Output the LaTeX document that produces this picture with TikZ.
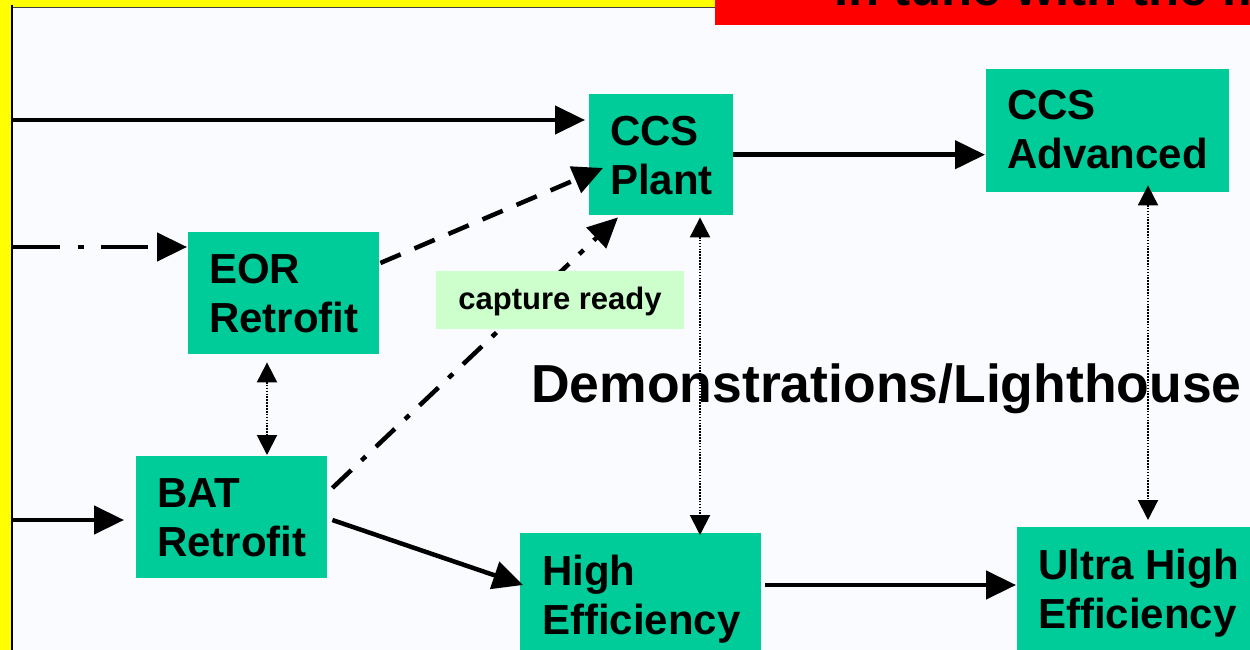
\documentclass[tikz,border=0pt]{standalone}
\usepackage{fontspec}
\setmainfont{Liberation Sans}
\usetikzlibrary{arrows.meta,calc}

\definecolor{boxgreen}{RGB}{0,204,153}
\definecolor{readygreen}{RGB}{204,255,204}
\definecolor{panelbg}{RGB}{250,251,254}
\definecolor{frameyellow}{RGB}{255,255,0}
\definecolor{bannerred}{RGB}{255,0,0}

\begin{document}
\begin{tikzpicture}[x=1pt,y=-1pt,
  stage/.style={fill=boxgreen, draw=none, inner sep=0pt, anchor=north west},
  stagetext/.style={anchor=north west, inner sep=0pt, align=left,
    font=\bfseries\fontsize{42}{49}\selectfont},
  flow/.style={line width=4.5pt, -{Triangle[length=30pt,width=28pt]}},
  dashflow/.style={flow, dash pattern=on 22pt off 15pt},
  dotdash/.style={flow, dash pattern=on 47pt off 18pt on 6pt off 17pt},
  dotdashdiag/.style={flow, dash pattern=on 26pt off 14pt on 6pt off 14pt},
  link/.style={line width=2pt, dash pattern=on 1.6pt off 1.3pt,
    {Triangle[length=20pt,width=20pt]}-{Triangle[length=20pt,width=20pt]}},
]
\useasboundingbox (0,0) rectangle (1250,650);
\clip (0,0) rectangle (1250,650);

% frame and panel
\fill[frameyellow] (0,0) rectangle (1250,650);
\fill[panelbg] (12,7) rectangle (1260,660);
\draw[line width=1.5pt, black!75] (12,7.5) -- (1260,7.5);
\draw[line width=2.5pt, black] (12,5) -- (12,660);

% banner
\fill[bannerred] (715,0) rectangle (1260,25);
\node[anchor=base west, inner sep=0pt, font=\bfseries\fontsize{51}{60}\selectfont]
  (banner) at (834,6) {In tune with the m};

% stage boxes
\node[stage, minimum width=144pt, minimum height=121pt] (plant) at (589,94) {};
\node[stage, minimum width=243pt, minimum height=123pt] (adv) at (986,69) {};
\node[stage, minimum width=191pt, minimum height=122pt] (eor) at (188,232) {};
\node[stage, minimum width=191pt, minimum height=122pt] (bat) at (136,456) {};
\node[stage, minimum width=241pt, minimum height=130pt] (high) at (520,533) {};
\node[stage, minimum width=250pt, minimum height=135pt] (ultra) at (1017,527) {};

% caption across the middle
\node[anchor=base west, inner sep=0pt, font=\bfseries\fontsize{53.5}{60}\selectfont]
  (demo) at (531,402) {Demonstrations/Lighthouse};

% incoming lines from the left edge
\coordinate (in1) at (13,120);
\coordinate (in2) at (13,247);
\coordinate (in3) at (13,520);
\draw[flow, shorten >=4pt] (in1) -- (in1 -| plant.west);
\draw[dotdash, shorten >=1pt] (in2) -- (in2 -| eor.west);
\draw[flow, shorten >=12pt] (in3) -- (in3 -| bat.west);

% transitions between stages
\draw[dashflow] ($(eor.north east)+(1,31)$) -- ($(plant.north west)+(14,74)$);
\draw[dotdashdiag] ($(bat.north east)+(5,32)$) -- ($(plant.south west)+(29,2)$);
\draw[flow, shorten >=1pt] (plant.east) -- (plant.east -| adv.west);
\draw[flow] ($(bat.north east)+(5,64)$) -- ($(high.north west)+(3,52)$);
\draw[flow, shorten >=1pt] ($(high.north east)+(4,52)$) coordinate (hq) -- (hq -| ultra.west);

% links between parallel stages
\coordinate (eorb) at ($(eor.south west)+(79,0)$);
\draw[link, shorten <=8pt, shorten >=1pt] (eorb) -- (eorb |- bat.north);
\coordinate (plantb) at ($(plant.south west)+(111,0)$);
\draw[link, shorten <=2pt, shorten >=-2pt] (plantb) -- (plantb |- high.north);
\coordinate (advb) at ($(adv.south west)+(162,0)$);
\draw[link, shorten <=-7pt, shorten >=7pt] (advb) -- (advb |- ultra.north);

% capture-ready tag
\node[fill=readygreen, inner sep=0pt, minimum width=248pt, minimum height=58pt,
  text depth=4pt, font=\bfseries\fontsize{31}{36}\selectfont] (ready) at (560,300) {capture ready};

% stage labels
\node[stagetext] (plant-t) at ($(plant.north west)+(21,22)$) {CCS\\Plant};
\node[stagetext] (adv-t) at ($(adv.north west)+(21,21)$) {CCS\\Advanced};
\node[stagetext] (eor-t) at ($(eor.north west)+(21,22)$) {EOR\\Retrofit};
\node[stagetext] (bat-t) at ($(bat.north west)+(21,22)$) {BAT\\Retrofit};
\node[stagetext] (high-t) at ($(high.north west)+(22,22)$) {High\\Efficiency};
\node[stagetext] (ultra-t) at ($(ultra.north west)+(21,22)$) {Ultra High\\Efficiency};
\end{tikzpicture}
\end{document}
